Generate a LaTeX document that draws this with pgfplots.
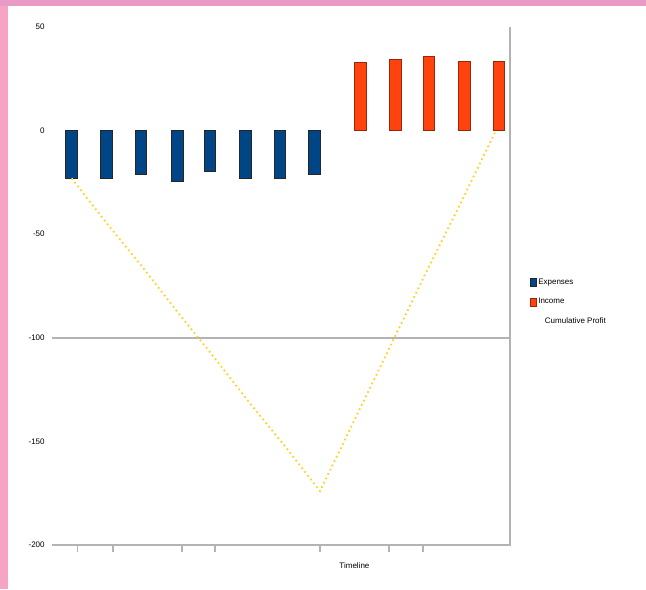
\documentclass[border=0pt]{standalone}
\usepackage{fontspec}
\setmainfont{Liberation Sans}
\usepackage{pgfplots}
\pgfplotsset{compat=1.18}
\definecolor{bgpink}{HTML}{F7A3C3}
\definecolor{toppink}{HTML}{E99AC6}
\definecolor{expblue}{HTML}{004586}
\definecolor{incorange}{HTML}{FF420E}
\definecolor{cumyellow}{HTML}{FFD320}
\definecolor{axgray}{HTML}{B3B3B3}
\pgfplotsset{smallbox/.style={legend image code/.code={\draw[##1, line width=0.5pt] (0pt,-3pt) rectangle (4pt,3pt);}}}
\begin{document}
\begin{tikzpicture}
\fill[bgpink] (0,0) rectangle (484.5pt,441.75pt);
\fill[toppink] (0,437.25pt) rectangle (484.5pt,441.75pt);
\fill[white] (6pt,0) rectangle (484.5pt,437.25pt);
\useasboundingbox (0,0) rectangle (484.5pt,441.75pt);
\begin{axis}[
  at={(39pt,33pt)}, anchor=south west,
  scale only axis, width=343.5pt, height=388.5pt,
  xmin=-0.57, xmax=12.71, ymin=-200, ymax=50,
  axis line style={draw=none},
  ytick={-200,-150,-100,-50,0,50},
  ytick style={draw=none},
  yticklabel style={font=\fontsize{6}{7}\selectfont, xshift=3pt},
  /pgf/number format/assume math mode=true,
  xtick={0.16,1.2,3.2,4.16,7.2,9.2,10.19},
  xticklabels={},
  xtick pos=lower,
  tick align=outside,
  major tick length=5pt,
  xtick style={draw=axgray, line width=1pt},
  clip=false,
  legend style={at={(1.035,0.525)}, anchor=north west, draw=none, fill=none,
    font=\fontsize{6}{7}\selectfont, row sep=5pt,
    legend cell align=left,
    nodes={inner xsep=1.5pt}},
]
\draw[axgray, line width=1.2pt] (axis cs:-0.57,-200) -- (axis cs:12.71,-200) -- (axis cs:12.71,50);
\draw[axgray, line width=1.2pt] (axis cs:-0.57,-100) -- (axis cs:12.71,-100);
\addplot[ybar, bar shift=0pt, bar width=0.34, fill=expblue, draw=black!85, line width=0.6pt, smallbox]
  coordinates {
  (0,-23) (1.0,-23) (2.01,-21) (3.06,-24.5) (4.01,-19.5) (5.03,-23) (6.04,-23) (7.03,-21)
};
\addlegendentry{Expenses}
\addplot[ybar, bar shift=0pt, bar width=0.34, fill=incorange, draw=incorange!60!black, line width=0.5pt, smallbox]
  coordinates {
  (8.36,33) (9.38,34.5) (10.36,36) (11.38,33.5) (12.39,33.5)
};
\addlegendentry{Income}
\addplot[cumyellow, line width=1.4pt, dash pattern=on 1.2pt off 2.4pt, mark=none,
  legend image code/.code={}] coordinates {
  (0,-23) (1.03,-45) (2.06,-66) (3.09,-88) (4.11,-109) (5.14,-131) (6.17,-152) (7.2,-174)
  (8.22,-139) (9.24,-104) (10.26,-69) (11.28,-35) (12.3,0)
};
\addlegendentry{\hspace{5pt}Cumulative Profit}
\node[font=\fontsize{6}{7}\selectfont, anchor=north] at (axis cs:8.2,-200) [yshift=-10pt] {Timeline};
\end{axis}
\end{tikzpicture}
\end{document}
